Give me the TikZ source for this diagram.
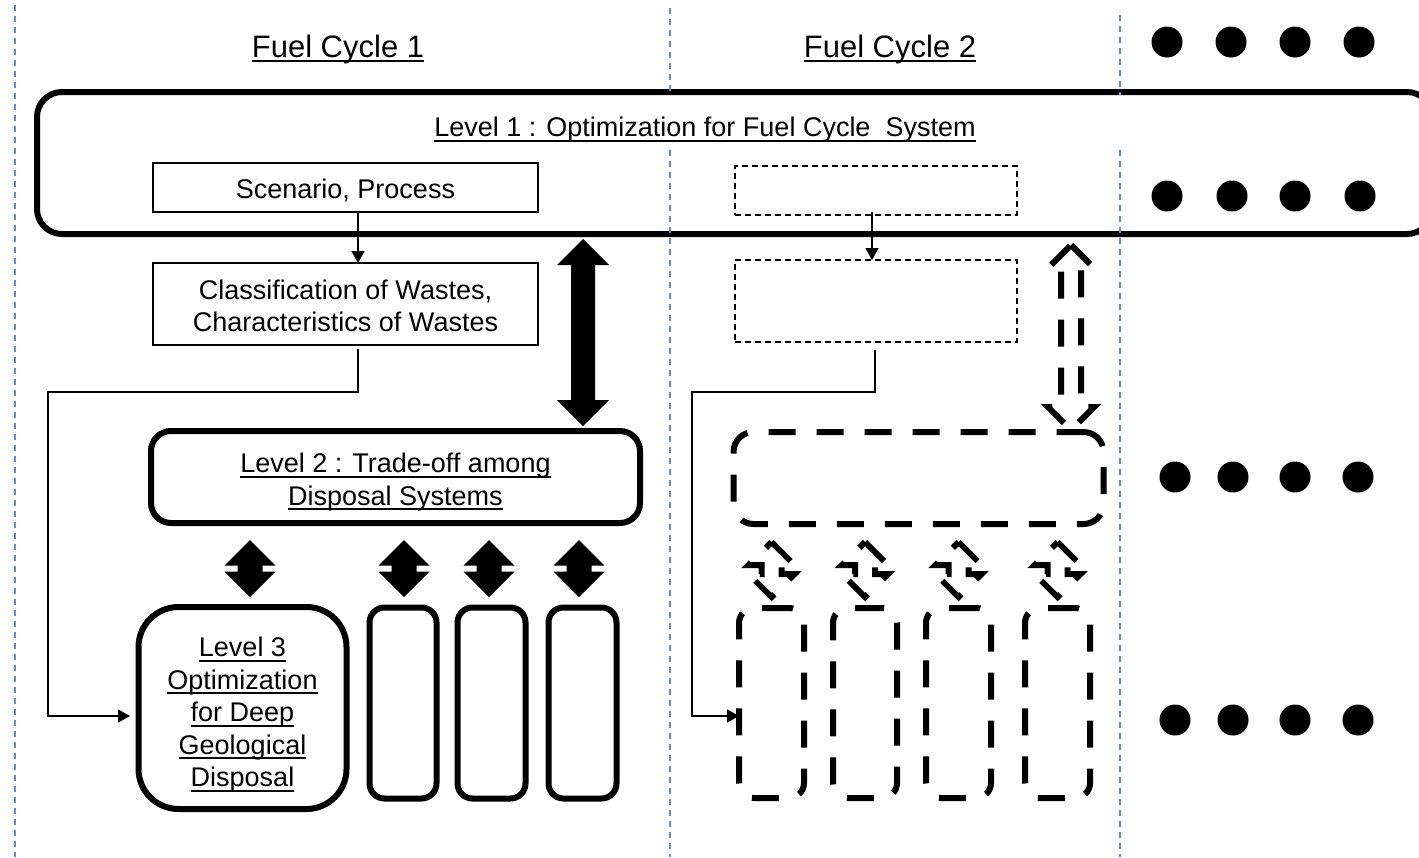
\documentclass[tikz,border=0pt]{standalone}
\usepackage{fontspec}
\setmainfont{Liberation Sans}
\usetikzlibrary{arrows.meta,calc}
\definecolor{gridblue}{RGB}{91,143,208}
\newcommand{\bodyfont}{\fontsize{27}{32.5}\selectfont}
\newcommand{\titlefont}{\fontsize{31}{36}\selectfont}
\newcommand{\myul}[1]{\setbox0\hbox{#1}\rlap{\rule[-5pt]{\wd0}{2pt}}\box0}
% double block arrow: [style]{cx}{top}{bottom}{half head width}{half shaft width}
\newcommand{\DArrow}[6][]{%
 \draw[#1] (#2,#3) -- ({#2+#5},{#3+#5}) -- ({#2+#6},{#3+#5}) -- ({#2+#6},{#4-#5})
   -- ({#2+#5},{#4-#5}) -- (#2,#4) -- ({#2-#5},{#4-#5}) -- ({#2-#6},{#4-#5})
   -- ({#2-#6},{#3+#5}) -- ({#2-#5},{#3+#5}) -- cycle;}
\begin{document}
\begin{tikzpicture}[x=1pt,y=-1pt,
  every node/.style={inner sep=0pt,outer sep=0pt},
  txt/.style={font=\bodyfont,align=center},
  ttl/.style={font=\titlefont,align=center},
  thinbox/.style={draw,line width=1.5pt,rectangle},
  thindash/.style={draw,line width=1.5pt,rectangle,dash pattern=on 6pt off 4pt},
  thickbox/.style={draw,line width=6pt,rounded corners=#1,rectangle},
  thickdash/.style={draw,line width=6pt,rounded corners=#1,rectangle,dash pattern=on 27pt off 21pt},
  conn/.style={line width=1.5pt,-{Triangle[length=12pt,width=13pt]}},
  grid/.style={gridblue,line width=2pt,dash pattern=on 6pt off 5pt},
  blockfill/.style={fill=black,draw=none},
  blockdash/.style={draw=black,line width=6pt,dash pattern=on 27pt off 21pt,fill=none},
  dot/.style={fill=black}
]
\useasboundingbox (0,0) rectangle (1419,857);
\clip (0,0) rectangle (1419,857);

% grid line end points
\coordinate (g1t) at (15,5);   \coordinate (g1b) at (15,857);
\coordinate (g2t) at (670,8);  \coordinate (g2m) at (670,95);
\coordinate (g2n) at (670,150);\coordinate (g2b) at (670,857);
\coordinate (g3t) at (1120,15);\coordinate (g3m) at (1120,95);
\coordinate (g3n) at (1120,150);\coordinate (g3b) at (1120,857);

% titles
\node[ttl] (fc1) at (338,49) {\myul{Fuel Cycle 1}};
\node[ttl] (fc2) at (890,49) {\myul{Fuel Cycle 2}};

% level 1
\node[thickbox=25pt,minimum width=1395pt,minimum height=142pt] (L1) at (734.5,163) {};
\node[txt] (L1t) at (705,130) {\myul{Level 1 : Optimization for Fuel Cycle\ \ System}};

% fuel cycle 1 boxes
\node[thinbox,minimum width=385pt,minimum height=49pt] (sc) at (345.5,187.5) {};
\node[txt] (sct) at (345.5,190.5) {Scenario, Process};
\node[thinbox,minimum width=385pt,minimum height=82pt] (cl) at (345.5,304) {};
\node[txt] (clt) at (345.5,306) {Classification of Wastes,\\Characteristics of Wastes};
\node[thickbox=20pt,minimum width=489pt,minimum height=92pt] (L2) at (395.5,477) {};
\node[txt] (L2t) at (395.5,482) {\myul{Level 2 : Trade-off among}\\\myul{Disposal Systems}};
\node[thickbox=40pt,minimum width=208pt,minimum height=202pt] (L3) at (242.5,708) {};
\node[txt] (L3t) at (242.5,715) {\myul{Level 3}\\\myul{Optimization}\\\myul{for Deep}\\\myul{Geological}\\\myul{Disposal}};
\node[thickbox=15pt,minimum width=67pt,minimum height=191pt] (s1) at (403,703) {};
\node[thickbox=15pt,minimum width=68pt,minimum height=191pt] (s2) at (491.5,703) {};
\node[thickbox=15pt,minimum width=68pt,minimum height=191pt] (s3) at (582.5,703) {};

% fuel cycle 2 boxes
\node[thindash,minimum width=282pt,minimum height=49pt] (d1) at (876,190.5) {};
\node[thindash,minimum width=282pt,minimum height=82pt] (d2) at (876,301) {};
\node[thickdash=20pt,minimum width=370pt,minimum height=92pt] (dL2) at (918.5,478) {};
\node[thickdash=15pt,minimum width=65pt,minimum height=190pt] (t1) at (771.5,703) {};
\node[thickdash=15pt,minimum width=64pt,minimum height=190pt] (t2) at (865,703) {};
\node[thickdash=15pt,minimum width=65pt,minimum height=190pt] (t3) at (958.5,703) {};
\node[thickdash=15pt,minimum width=65pt,minimum height=190pt] (t4) at (1057.5,703) {};

% block arrows
\DArrow[blockfill]{583}{239}{426}{26}{12}
\DArrow[blockfill]{250}{540}{597}{25.5}{12.5}
\DArrow[blockfill]{404}{540}{597}{25.5}{12.5}
\DArrow[blockfill]{489}{540}{597}{25.5}{12.5}
\DArrow[blockfill]{579}{540}{597}{25.5}{12.5}
\DArrow[blockdash]{1071}{245}{430}{23}{10}
\DArrow[blockdash]{771.5}{542}{597}{23}{10}
\DArrow[blockdash]{865}{542}{597}{23}{10}
\DArrow[blockdash]{958.5}{542}{597}{23}{10}
\DArrow[blockdash]{1057.5}{542}{597}{23}{10}

% connectors fuel cycle 1
\coordinate (ax) at (358,0);
\coordinate (l1corner) at (48,392);
\coordinate (l3in) at (130,716);
\draw[conn] (ax |- sc.south) -- (ax |- cl.north);
\draw[conn] ($(ax |- cl.south)+(0,4)$) |- (l1corner) |- (l3in);

% connectors fuel cycle 2
\coordinate (bx) at (872,0);
\coordinate (cx) at (875,0);
\coordinate (l2corner) at (692,392);
\coordinate (t1in) at (739,716);
\draw[conn] ($(bx |- d1.south)-(0,3)$) -- (bx |- d2.north);
\draw[conn] ($(cx |- d2.south)+(0,8)$) |- (l2corner) |- (t1in);

% grid lines
\draw[grid] (g1t) -- (g1b);
\draw[grid] (g2t) -- (g2m);
\draw[grid] (g2n) -- (g2b);
\draw[grid] (g3t) -- (g3m);
\draw[grid] (g3n) -- (g3b);

% dots
\foreach \x in {1167,1231,1295,1359} {\fill[dot] (\x,42) circle (15.5pt);}
\foreach \x in {1167,1232,1295,1360} {\fill[dot] (\x,196) circle (15.5pt);}
\foreach \x in {1175,1233,1295,1358} {\fill[dot] (\x,477) circle (15.5pt);}
\foreach \x in {1175,1233,1295,1358} {\fill[dot] (\x,720) circle (15.5pt);}
\end{tikzpicture}
\end{document}
